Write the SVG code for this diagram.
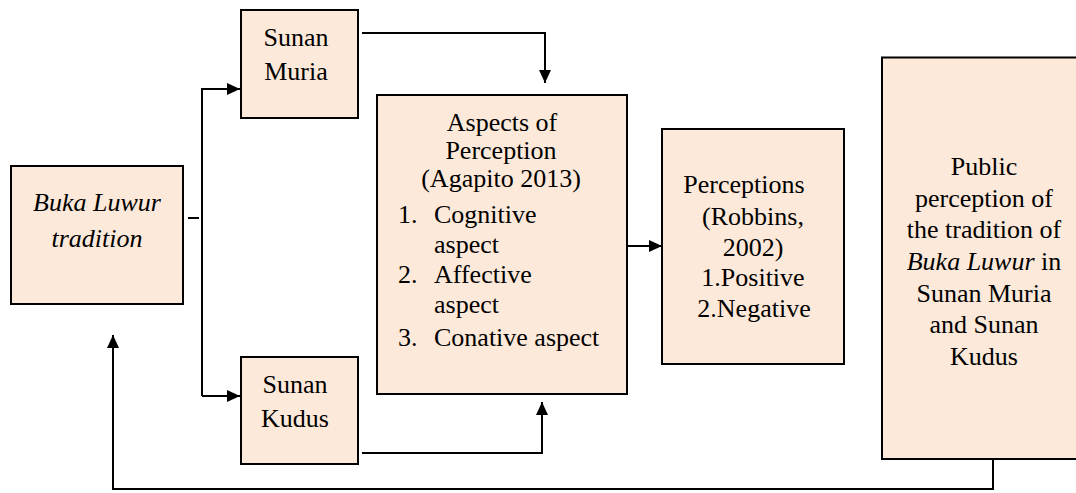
<svg xmlns="http://www.w3.org/2000/svg" width="1076" height="493" viewBox="0 0 1076 493" font-family="Liberation Serif, Times New Roman, DejaVu Serif, serif">
<style>
.box{fill:#FDE9D9;stroke:#000;stroke-width:2}
.t{font-size:26px;fill:#000}
.c{text-anchor:middle}
.i{font-style:italic}
.ln{fill:none;stroke:#000;stroke-width:2}
</style>
<defs>
<marker id="ah" viewBox="0 0 13 12" markerWidth="13" markerHeight="12" refX="13" refY="6" orient="auto" markerUnits="userSpaceOnUse">
<path d="M0,0 L13,6 L0,12 z" fill="#000"/>
</marker>
</defs>
<rect width="1076" height="493" fill="#fff"/>
<g id="buka">
<rect class="box" x="11" y="166" width="172" height="138"/>
<text class="t c i" x="97" y="211">Buka Luwur</text>
<text class="t c i" x="97" y="247">tradition</text>
</g>
<g id="muria">
<rect class="box" x="241" y="10" width="117" height="108"/>
<text class="t c" x="296" y="46">Sunan</text>
<text class="t c" x="296" y="80">Muria</text>
</g>
<g id="kudus">
<rect class="box" x="241" y="357" width="117" height="107"/>
<text class="t c" x="295" y="393">Sunan</text>
<text class="t c" x="295" y="427">Kudus</text>
</g>
<g id="aspects">
<rect class="box" x="377" y="95" width="250" height="299"/>
<text class="t c" x="502" y="131">Aspects of</text>
<text class="t c" x="501" y="159">Perception</text>
<text class="t c" x="501" y="187">(Agapito 2013)</text>
<text class="t" x="398" y="223">1.</text>
<text class="t" x="434" y="223">Cognitive</text>
<text class="t" x="434" y="253">aspect</text>
<text class="t" x="398" y="283">2.</text>
<text class="t" x="434" y="283">Affective</text>
<text class="t" x="434" y="313">aspect</text>
<text class="t" x="398" y="346">3.</text>
<text class="t" x="434" y="346">Conative aspect</text>
</g>
<g id="perceptions">
<rect class="box" x="662" y="129" width="182" height="235"/>
<text class="t c" x="744" y="193">Perceptions</text>
<text class="t c" x="753" y="225">(Robbins,</text>
<text class="t c" x="753" y="256">2002)</text>
<text class="t c" x="753" y="286">1.Positive</text>
<text class="t c" x="754" y="317">2.Negative</text>
</g>
<g id="public">
<rect class="box" x="882" y="57.5" width="212" height="401.5"/>
<text class="t c" x="984" y="175">Public</text>
<text class="t c" x="984" y="207">perception of</text>
<text class="t c" x="984" y="238">the tradition of</text>
<text class="t c" x="984" y="270"><tspan class="i">Buka Luwur</tspan> in</text>
<text class="t c" x="984" y="302">Sunan Muria</text>
<text class="t c" x="984" y="333">and Sunan</text>
<text class="t c" x="984" y="365">Kudus</text>
</g>
<g id="connectors">
<path class="ln" d="M188,218 H199"/>
<path class="ln" d="M202,396 V89 H240" marker-end="url(#ah)"/>
<path class="ln" d="M202,396 H240" marker-end="url(#ah)"/>
<path class="ln" d="M362,33 H545 V83" marker-end="url(#ah)"/>
<path class="ln" d="M362,453 H542 V402" marker-end="url(#ah)"/>
<path class="ln" d="M627,246 H662" marker-end="url(#ah)"/>
<path class="ln" d="M993,459 V489 H113 V335" marker-end="url(#ah)"/>
</g>
</svg>
